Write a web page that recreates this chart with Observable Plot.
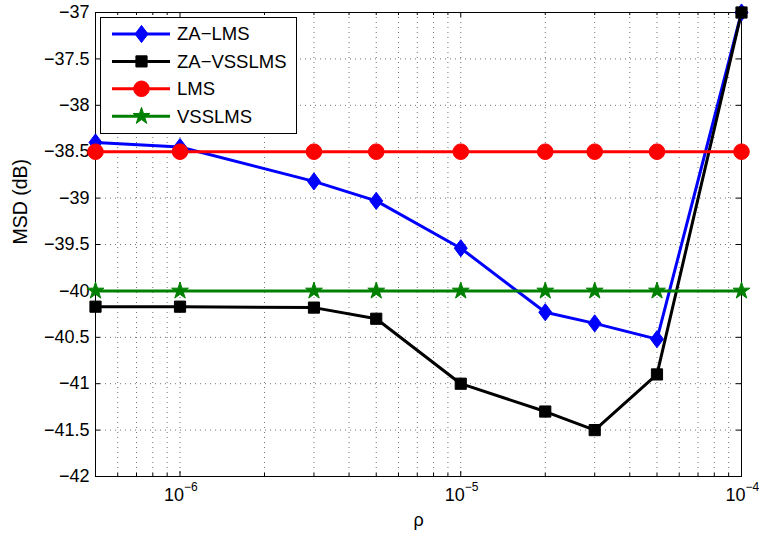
<!DOCTYPE html>
<html>
<head>
<meta charset="utf-8">
<script src="https://cdn.jsdelivr.net/npm/d3@7"></script>
<script src="https://cdn.jsdelivr.net/npm/@observablehq/plot@0.6"></script>
<style>
  html, body { margin: 0; padding: 0; background: #fff; }
  #chart { position: relative; width: 759px; height: 536px; font-family: "Liberation Sans", Arial, sans-serif; }
  #legend { position: absolute; left: 0; top: 0; pointer-events: none; }
</style>
</head>
<body>
<div id="chart"></div>
<script>
// Sparsity-aware parameter rho (x) and steady-state MSD in dB (y)
const rho = [5e-7, 1e-6, 3e-6, 5e-6, 1e-5, 2e-5, 3e-5, 5e-5, 1e-4];
const zaLms    = [-38.40, -38.45, -38.82, -39.03, -39.54, -40.23, -40.35, -40.52, -37.00];
const zaVsslms = [-40.17, -40.17, -40.18, -40.30, -41.00, -41.30, -41.50, -40.90, -37.00];
const lms      = [-38.5, -38.5, -38.5, -38.5, -38.5, -38.5, -38.5, -38.5, -38.5];
const vsslms   = [-40.0, -40.0, -40.0, -40.0, -40.0, -40.0, -40.0, -40.0, -40.0];

const seriesNames  = ["ZA\u2212LMS", "ZA\u2212VSSLMS", "LMS", "VSSLMS"];
const seriesColors = ["#0000ff", "#000000", "#ff0000", "#008000"];

// Axis ticks
const xMajor = [1e-6, 1e-5, 1e-4];
const xMajorExp = ["\u22126", "\u22125", "\u22124"];
const xMinor = [6e-7, 7e-7, 8e-7, 9e-7,
                2e-6, 3e-6, 4e-6, 5e-6, 6e-6, 7e-6, 8e-6, 9e-6,
                2e-5, 3e-5, 4e-5, 5e-5, 6e-5, 7e-5, 8e-5, 9e-5];
const yTicks = [-42, -41.5, -41, -40.5, -40, -39.5, -39, -38.5, -38, -37.5, -37];

// Marker shapes (filled diamond, square, circle, pentagram)
const diamond = {
  draw(ctx, size) {
    const r = Math.sqrt(size / Math.PI);
    const h = r * 1.3, w = r * 0.98;
    ctx.moveTo(0, -h); ctx.lineTo(w, 0); ctx.lineTo(0, h); ctx.lineTo(-w, 0); ctx.closePath();
  }
};
const seriesSymbols = [diamond, d3.symbolSquare, d3.symbolCircle, d3.symbolStar];
const seriesR = [6.6, 6.3, 7.8, 5.3];
const seriesValues = [zaLms, zaVsslms, lms, vsslms];

const W = 759, H = 536;
const M = {left: 95, right: 18, top: 12, bottom: 60};
const plotW = W - M.left - M.right, plotH = H - M.top - M.bottom;

const fmtY = d => (d < 0 ? "\u2212" : "") + String(Math.abs(d));

const gridStyle = {stroke: "#000", strokeOpacity: 0.7, strokeWidth: 0.8, strokeDasharray: "1,4"};

const marks = [
  // dotted grid
  Plot.ruleX(xMinor.concat(xMajor), {x: d => d, ...gridStyle}),
  Plot.ruleY(yTicks, {y: d => d, ...gridStyle}),
  // inward ticks on all four sides
  Plot.ruleX(xMajor, {x: d => d, insetTop: plotH - 5, stroke: "#000"}),
  Plot.ruleX(xMajor, {x: d => d, insetBottom: plotH - 5, stroke: "#000"}),
  Plot.ruleX(xMinor, {x: d => d, insetTop: plotH - 3, stroke: "#000"}),
  Plot.ruleX(xMinor, {x: d => d, insetBottom: plotH - 3, stroke: "#000"}),
  Plot.ruleY(yTicks, {y: d => d, insetRight: plotW - 5, stroke: "#000"}),
  Plot.ruleY(yTicks, {y: d => d, insetLeft: plotW - 5, stroke: "#000"}),
  // tick labels
  Plot.text(yTicks, {y: d => d, text: fmtY, frameAnchor: "left", dx: -6, textAnchor: "end", fontSize: 18, fill: "#000"}),
  Plot.text(xMajor, {x: d => d, text: () => "10", frameAnchor: "bottom", dy: 24, dx: 4, textAnchor: "end", fontSize: 18, fill: "#000"}),
  Plot.text(xMajor, {x: d => d, text: (d, i) => xMajorExp[i], frameAnchor: "bottom", dy: 14.5, dx: 4, textAnchor: "start", fontSize: 12, fill: "#000"}),
  // axis titles
  Plot.text(["\u03c1"], {text: d => d, frameAnchor: "bottom", dy: 49, fontSize: 18, fill: "#000"}),
  Plot.text(["MSD (dB)"], {text: d => d, frameAnchor: "left", dx: -75, rotate: -90, fontSize: 19.5, fill: "#000"}),
  Plot.frame({stroke: "#000", strokeWidth: 1})
];

// each series: line first, then its markers
seriesValues.forEach((vals, s) => {
  const rows = rho.map((x, i) => ({x, y: vals[i]}));
  marks.push(Plot.line(rows, {x: "x", y: "y", stroke: seriesColors[s], strokeWidth: 3}));
  marks.push(Plot.dot(rows, {x: "x", y: "y", symbol: () => seriesSymbols[s], r: seriesR[s],
    fill: seriesColors[s], stroke: seriesColors[s], strokeWidth: 1}));
});

const chart = Plot.plot({
  width: W, height: H,
  marginLeft: M.left, marginRight: M.right, marginTop: M.top, marginBottom: M.bottom,
  style: {fontFamily: "'Liberation Sans', Arial, sans-serif", background: "#fff", overflow: "visible"},
  x: {type: "log", domain: [5e-7, 1e-4], axis: null},
  y: {domain: [-42, -37], axis: null},
  symbol: {type: "identity"},
  marks
});
document.getElementById("chart").appendChild(chart);

// legend box in the upper-left corner of the axes
const lg = d3.select("#chart").append("svg")
  .attr("id", "legend").attr("width", W).attr("height", H);
const box = {x: 100, y: 17, w: 196, h: 116};
lg.append("rect").attr("x", box.x + 0.5).attr("y", box.y + 0.5)
  .attr("width", box.w).attr("height", box.h)
  .attr("fill", "#fff").attr("stroke", "#000").attr("stroke-width", 1);
seriesNames.forEach((name, s) => {
  const cy = 34 + s * 27.4;
  const g = lg.append("g");
  g.append("line").attr("x1", 112).attr("x2", 170).attr("y1", cy).attr("y2", cy)
    .attr("stroke", seriesColors[s]).attr("stroke-width", 3);
  const r = seriesR[s];
  g.append("path").attr("transform", `translate(141.5,${cy})`)
    .attr("d", d3.symbol(seriesSymbols[s], r * r * Math.PI)())
    .attr("fill", seriesColors[s]).attr("stroke", seriesColors[s]).attr("stroke-width", 1);
  g.append("text").attr("x", 177).attr("y", cy).attr("dy", "0.35em")
    .attr("font-size", 18.5).attr("font-family", "'Liberation Sans', Arial, sans-serif")
    .attr("fill", "#000").text(name);
});
</script>
</body>
</html>
